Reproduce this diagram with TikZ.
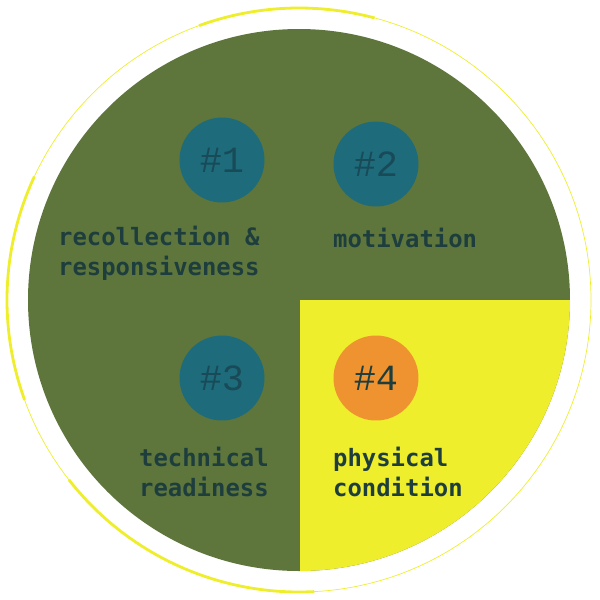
\documentclass[tikz,border=0pt]{standalone}
\usepackage{fontspec}
\setmonofont{DejaVu Sans Mono}
\newfontfamily\numfont{Liberation Mono}
\usepackage{tikz}
\usetikzlibrary{positioning,calc}
\definecolor{leaf}{HTML}{5E763C}
\definecolor{lemon}{HTML}{EEEE2C}
\definecolor{teal}{HTML}{1E6B7B}
\definecolor{tang}{HTML}{EF9230}
\definecolor{ink}{HTML}{1E3E3E}
\definecolor{numink}{HTML}{184A58}
\begin{document}
\begin{tikzpicture}[x=0.02cm, y=-0.02cm,
    badge/.style={circle, minimum size=1.7cm, inner sep=0pt, font=\numfont\fontsize{21}{21}\selectfont},
    caption/.style={anchor=west, align=left, text=ink, font=\ttfamily\bfseries\fontsize{13.6}{17}\selectfont}]
        \useasboundingbox (0,0) rectangle (600,600);
        \coordinate (C) at (299,300);
        % outer ring
        \draw[lemon, line width=0.4pt] (C) circle (292);
        \draw[lemon, line width=1.6pt] ($(C)+(87:292)$) arc (87:142:292);
        \draw[lemon, line width=1.6pt] ($(C)+(160:292)$) arc (160:205:292);
        \draw[lemon, line width=1.6pt] ($(C)+(250:292)$) arc (250:285:292);
        % disc with yellow quarter
        \fill[leaf] (C) circle (271);
        \begin{scope}
            \clip (C) circle (271);
            \fill[lemon] (300,300) rectangle (600,600);
        \end{scope}
        % badges
        \node[badge, fill=teal, text=numink] (N1) at (222,160) {\#1};
        \node[badge, fill=teal, text=numink] (N2) at (376,164) {\#2};
        \node[badge, fill=teal, text=numink] (N3) at (222,378) {\#3};
        \node[badge, fill=tang, text=ink] (N4) at (376,378) {\#4};
        % captions
        \node[caption] (T1) at (52,253) {recollection \&\\responsiveness};
        \node[caption] (T2) at (327,238) {motivation};
        \node[caption] (T3) at (133,472) {technical\\readiness};
        \node[caption] (T4) at (327,472) {physical\\condition};
    \end{tikzpicture}
\end{document}
